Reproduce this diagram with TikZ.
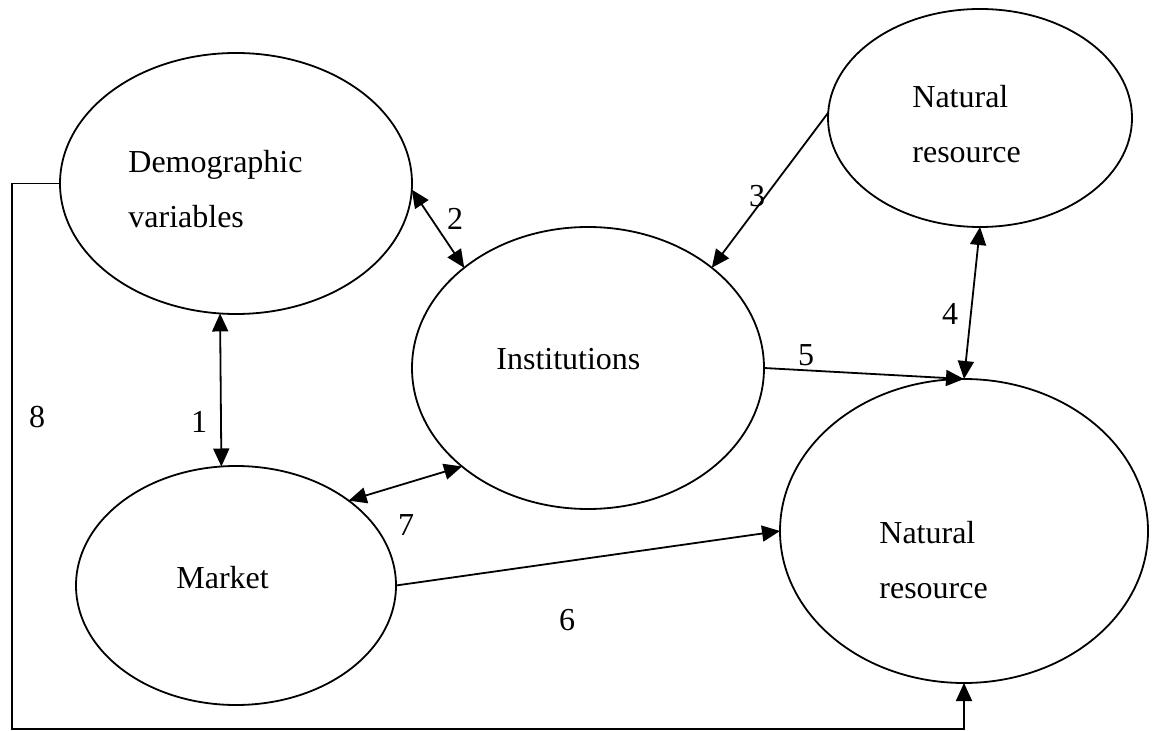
\documentclass[tikz,border=0pt]{standalone}
\usepackage{fontspec}
\setmainfont{Liberation Serif}
\usetikzlibrary{arrows.meta}
\usetikzlibrary{shapes.geometric}
\tikzstyle{blob}=[draw,ellipse,line width=.9pt,inner sep=0pt,outer sep=0pt]
\tikzstyle{txt}=[font=\fontsize{16}{27.5}\selectfont,align=left,anchor=base west,inner sep=0pt]
\tikzstyle{num}=[font=\fontsize{16}{19}\selectfont,anchor=base,inner sep=0pt]
\tikzstyle{lnk}=[line width=.9pt,>={Triangle[length=9pt,width=8pt]}]

\begin{document}
\begin{tikzpicture}[x=.5pt,y=-.5pt]
	\useasboundingbox (0,0) rectangle (1154,731);
	\node[blob,minimum width=176pt,minimum height=130.5pt] (demo) at (236,183.5) {};
	\node[blob,minimum width=152pt,minimum height=109pt] (natop) at (980,118) {};
	\node[blob,minimum width=176pt,minimum height=141pt] (inst) at (588,368) {};
	\node[blob,minimum width=160pt,minimum height=119.5pt] (market) at (236,585.5) {};
	\node[blob,minimum width=184pt,minimum height=152pt] (natbot) at (964,531) {};
	\node[txt] (demo-t) at (128,228) {Demographic\\variables};
	\node[txt] (natop-t) at (912,163) {Natural\\resource};
	\node[txt] (inst-t) at (496,370) {Institutions};
	\node[txt] (market-t) at (176,588) {Market};
	\node[txt] (natbot-t) at (879,598) {Natural\\resource};
	\coordinate (loop8) at (12,729);
	\draw[lnk,<->] (demo.-97) -- (market.97);
	\draw[lnk,<->] (demo.-2) -- (inst.141);
	\draw[lnk,->] (natop.178) -- (inst.39);
	\draw[lnk,<->] (natop.south) -- (natbot.north);
	\draw[lnk,->] (inst.east) -- (natbot.north);
	\draw[lnk,->] (market.east) -- (natbot.west);
	\draw[lnk,<->] (market.37) -- (inst.218);
	\draw[lnk,->] (demo.west) -| (loop8) -| (natbot.south);
	\node[num] (n1) at (199,432) {1};
	\node[num] (n2) at (455,230) {2};
	\node[num] (n3) at (757,207) {3};
	\node[num] (n4) at (950,325) {4};
	\node[num] (n5) at (806,365) {5};
	\node[num] (n6) at (567,630) {6};
	\node[num] (n7) at (406,535) {7};
	\node[num] (n8) at (37,427) {8};
\end{tikzpicture}
\end{document}
